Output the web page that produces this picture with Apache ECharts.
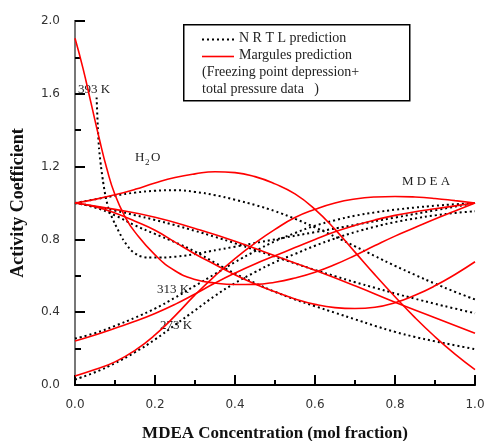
<!DOCTYPE html>
<html>
<head>
<meta charset="utf-8">
<script src="https://cdn.jsdelivr.net/npm/echarts@6/dist/echarts.min.js"></script>
<style>html,body{margin:0;padding:0;background:#fff}#c{width:486px;height:441px}</style>
</head>
<body>
<div id="c"></div>
<script>
// x ticks and y ticks
const xTicks = [0, 0.2, 0.4, 0.6, 0.8, 1.0];
const yTicks = [0, 0.4, 0.8, 1.2, 1.6, 2.0];

// Margules prediction (red)
const margH2O273 = [[0,1.0],[0.05,1.02],[0.1,1.045],[0.15,1.075],[0.2,1.11],[0.25,1.14],[0.3,1.16],[0.35,1.172],[0.4,1.167],[0.45,1.145],[0.5,1.105],[0.55,1.05],[0.6,0.965],[0.65,0.855],[0.7,0.73],[0.75,0.605],[0.8,0.485],[0.85,0.37],[0.9,0.265],[0.95,0.17],[1.0,0.085]];
const margH2O313 = [[0,1.0],[0.1,0.965],[0.2,0.922],[0.3,0.86],[0.4,0.79],[0.5,0.71],[0.6,0.63],[0.7,0.545],[0.8,0.455],[0.9,0.37],[1.0,0.284]];
const margH2O393 = [[0,1.0],[0.05,0.98],[0.1,0.945],[0.15,0.9],[0.2,0.85],[0.25,0.785],[0.3,0.72],[0.35,0.662],[0.4,0.605],[0.45,0.555],[0.5,0.512],[0.55,0.473],[0.6,0.443],[0.65,0.425],[0.7,0.42],[0.75,0.427],[0.8,0.452],[0.85,0.493],[0.9,0.545],[0.95,0.607],[1.0,0.677]];
const margMDEA273 = [[0,0.05],[0.05,0.085],[0.1,0.127],[0.15,0.19],[0.2,0.275],[0.25,0.38],[0.3,0.495],[0.35,0.6],[0.4,0.695],[0.45,0.78],[0.5,0.855],[0.55,0.92],[0.6,0.965],[0.65,1.0],[0.7,1.022],[0.75,1.033],[0.8,1.036],[0.85,1.033],[0.9,1.025],[0.95,1.013],[1.0,1.0]];
const margMDEA313 = [[0,0.242],[0.05,0.275],[0.1,0.312],[0.15,0.35],[0.2,0.393],[0.25,0.443],[0.3,0.5],[0.35,0.56],[0.4,0.615],[0.45,0.665],[0.5,0.71],[0.55,0.755],[0.6,0.8],[0.65,0.842],[0.7,0.877],[0.75,0.907],[0.8,0.932],[0.85,0.952],[0.9,0.968],[0.95,0.984],[1.0,1.0]];
const margMDEA393 = [[0,1.905],[0.02,1.74],[0.04,1.55],[0.06,1.36],[0.08,1.185],[0.1,1.045],[0.125,0.925],[0.15,0.84],[0.2,0.715],[0.25,0.628],[0.3,0.58],[0.35,0.56],[0.4,0.552],[0.45,0.553],[0.5,0.565],[0.55,0.588],[0.6,0.62],[0.65,0.662],[0.7,0.712],[0.75,0.766],[0.8,0.818],[0.85,0.865],[0.9,0.912],[0.95,0.956],[1.0,1.0]];

// NRTL prediction (black dotted)
const nrtlH2O273 = [[0,1.0],[0.05,1.02],[0.1,1.04],[0.15,1.057],[0.2,1.067],[0.25,1.07],[0.3,1.061],[0.35,1.043],[0.4,1.018],[0.45,0.989],[0.5,0.955],[0.55,0.913],[0.6,0.866],[0.65,0.815],[0.7,0.762],[0.75,0.708],[0.8,0.655],[0.85,0.605],[0.9,0.557],[0.95,0.512],[1.0,0.47]];
const nrtlH2O313 = [[0,1.0],[0.05,0.98],[0.1,0.958],[0.15,0.933],[0.2,0.907],[0.25,0.878],[0.3,0.847],[0.35,0.814],[0.4,0.779],[0.45,0.742],[0.5,0.705],[0.55,0.668],[0.6,0.632],[0.65,0.598],[0.7,0.565],[0.75,0.534],[0.8,0.503],[0.85,0.474],[0.9,0.446],[0.95,0.42],[1.0,0.394]];
const nrtlH2O393 = [[0,1.0],[0.05,0.975],[0.1,0.932],[0.15,0.877],[0.2,0.83],[0.25,0.784],[0.3,0.733],[0.35,0.672],[0.4,0.612],[0.45,0.56],[0.5,0.512],[0.55,0.47],[0.6,0.433],[0.65,0.397],[0.7,0.361],[0.75,0.325],[0.8,0.292],[0.85,0.264],[0.9,0.24],[0.95,0.218],[1.0,0.197]];
const nrtlMDEA273 = [[0,0.03],[0.05,0.07],[0.1,0.12],[0.15,0.18],[0.2,0.25],[0.25,0.33],[0.3,0.41],[0.35,0.49],[0.4,0.56],[0.45,0.62],[0.5,0.675],[0.55,0.72],[0.6,0.765],[0.65,0.805],[0.7,0.84],[0.75,0.87],[0.8,0.895],[0.85,0.915],[0.9,0.932],[0.95,0.945],[1.0,0.955]];
const nrtlMDEA313 = [[0,0.255],[0.05,0.285],[0.1,0.325],[0.15,0.37],[0.2,0.42],[0.25,0.48],[0.3,0.545],[0.35,0.61],[0.4,0.675],[0.45,0.735],[0.5,0.79],[0.55,0.835],[0.6,0.875],[0.65,0.905],[0.7,0.93],[0.75,0.948],[0.8,0.963],[0.85,0.975],[0.9,0.985],[0.95,0.993],[1.0,1.0]];
const nrtlMDEA393 = [[0.054,1.58],[0.057,1.42],[0.06,1.3],[0.065,1.2],[0.07,1.12],[0.076,1.04],[0.085,0.96],[0.1,0.885],[0.12,0.8],[0.14,0.74],[0.16,0.71],[0.18,0.7],[0.22,0.7],[0.28,0.712],[0.35,0.74],[0.45,0.78],[0.55,0.82],[0.65,0.86],[0.75,0.9],[0.85,0.94],[0.95,0.98],[1.0,1.0]];

const margList = [margH2O273, margH2O313, margH2O393, margMDEA273, margMDEA313, margMDEA393];
const nrtlList = [nrtlH2O273, nrtlH2O313, nrtlH2O393, nrtlMDEA273, nrtlMDEA313, nrtlMDEA393];

const chart = echarts.init(document.getElementById('c'), null, {renderer: 'canvas'});
const serif = '"Liberation Serif", "DejaVu Serif", serif';
const sans = '"DejaVu Sans", sans-serif';

const series = [];
nrtlList.forEach((d, i) => series.push({
  type: 'line', name: 'NRTL prediction', data: d, showSymbol: false, smooth: i === 5 ? 0.2 : 0.5,
  lineStyle: {color: '#000', width: 2, type: [2, 3]}, z: 2, silent: true
}));
margList.forEach(d => series.push({
  type: 'line', name: 'Margules prediction', data: d, showSymbol: false, smooth: 0.5,
  lineStyle: {color: '#ff0000', width: 1.6}, z: 3, silent: true
}));

const txt = (left, top, text, size, extra) => Object.assign({
  type: 'text', left: left, top: top,
  style: {text: text, font: (size || 13) + 'px ' + serif, fill: '#222'}
}, extra || {});

chart.setOption({
  animation: false,
  backgroundColor: '#fff',
  grid: {left: 75, right: 11, top: 21, bottom: 56, containLabel: false, outerBoundsMode: 'none'},
  xAxis: [{
    type: 'value', min: 0, max: 1, interval: 0.2,
    name: 'MDEA Concentration (mol fraction)', nameLocation: 'middle', nameGap: 40,
    nameTextStyle: {fontFamily: serif, fontWeight: 'bold', fontSize: 17, color: '#111'},
    axisLine: {show: true, lineStyle: {color: '#000', width: 2}},
    axisTick: {show: true, inside: true, length: 10, lineStyle: {color: '#000', width: 2}},
    minorTick: {show: true, splitNumber: 2, length: 5, lineStyle: {color: '#000', width: 2}},
    axisLabel: {margin: 14, fontFamily: sans, fontSize: 12, color: '#333', formatter: v => v.toFixed(1)},
    splitLine: {show: false}
  }, {
    type: 'value', position: 'top', min: 0, max: 1,
    axisLine: {show: true, lineStyle: {color: '#000', width: 1}},
    axisTick: {show: false}, axisLabel: {show: false}, splitLine: {show: false}
  }],
  yAxis: [{
    type: 'value', min: 0, max: 2, interval: 0.4,
    name: 'Activity Coefficient', nameLocation: 'middle', nameGap: 48,
    nameTextStyle: {fontFamily: serif, fontWeight: 'bold', fontSize: 18, color: '#111'},
    axisLine: {show: true, lineStyle: {color: '#000', width: 2}},
    axisTick: {show: true, inside: true, length: 10, lineStyle: {color: '#000', width: 2}},
    minorTick: {show: true, splitNumber: 2, length: 6, lineStyle: {color: '#000', width: 2}},
    axisLabel: {margin: 15, fontFamily: sans, fontSize: 12, color: '#333', formatter: v => v.toFixed(1)},
    splitLine: {show: false}
  }, {
    type: 'value', position: 'right', min: 0, max: 2,
    axisLine: {show: true, lineStyle: {color: '#777', width: 2}},
    axisTick: {show: false}, axisLabel: {show: false}, splitLine: {show: false}
  }],
  series: series,
  graphic: [
    {type: 'rect', left: 183, top: 24, shape: {width: 226, height: 76}, style: {fill: '#fff', stroke: '#000', lineWidth: 1.5}, z: 10},
    {type: 'line', shape: {x1: 202, y1: 39.5, x2: 234, y2: 39.5}, style: {stroke: '#000', lineWidth: 2, lineDash: [2, 3]}, z: 11},
    {type: 'line', shape: {x1: 202, y1: 56.5, x2: 234, y2: 56.5}, style: {stroke: '#ff0000', lineWidth: 1.6}, z: 11},
    txt(239, 31, 'N R T L prediction', 14, {z: 11}),
    txt(239, 48, 'Margules prediction', 14, {z: 11}),
    txt(202, 65, '(Freezing point depression+', 14, {z: 11}),
    txt(202, 82, 'total pressure data   )', 14, {z: 11}),
    txt(78, 83, '393 K', 13),
    txt(135, 151, 'H', 13),
    txt(145, 158, '2', 9),
    txt(151, 151, 'O', 13),
    txt(402, 175, 'M D E A', 13),
    txt(157, 283, '313 K', 13),
    txt(160, 319, '273 K', 13)
  ]
});
</script>
</body>
</html>
